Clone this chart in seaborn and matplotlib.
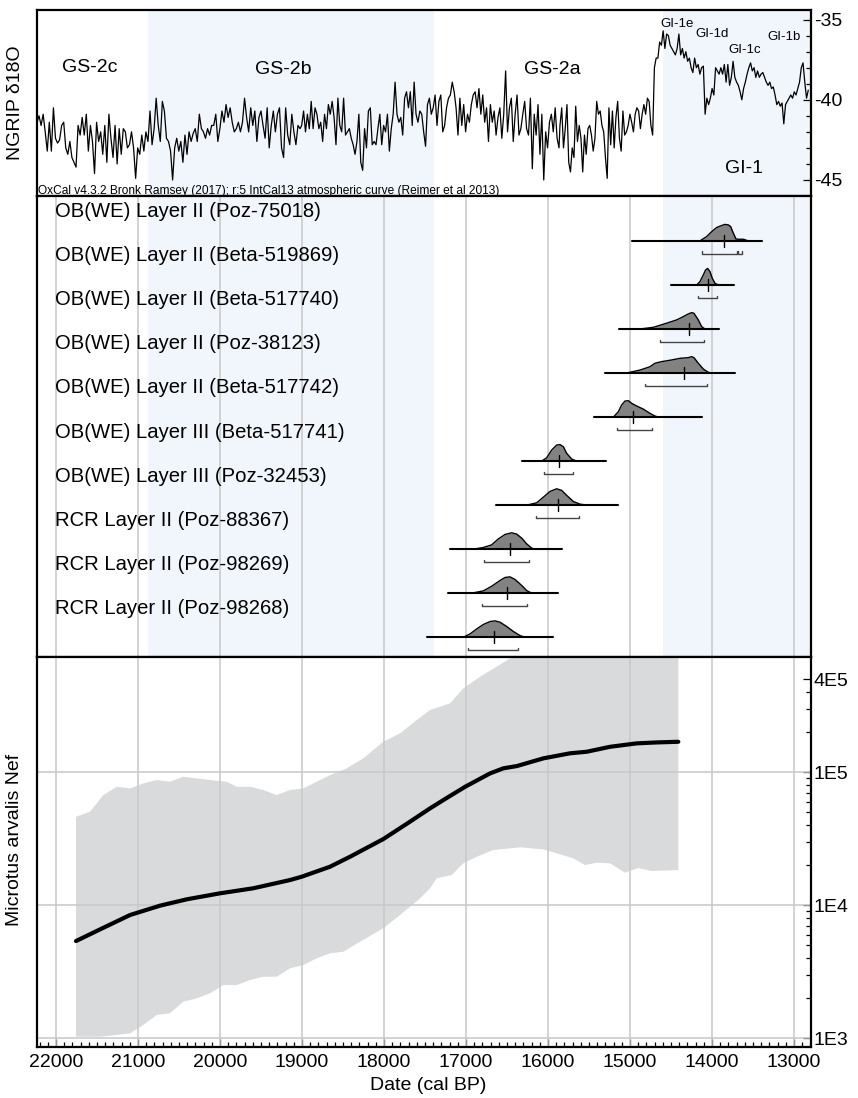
#!/usr/bin/env python3
import numpy as np
import matplotlib
matplotlib.use('Agg')
import matplotlib.pyplot as plt
import matplotlib.ticker as mticker
import seaborn as sns

# NGRIP d18O (permil) in three stretches,
# each stretch evenly spaced in age between its two ends
ngrip_span_a = (22232, 19024)
ngrip_a = [-41.4, -41.0, -41.6, -40.9, -42.0, -43.2, -41.4, -43.2, -40.5, -42.4,
           -42.7, -42.5, -41.6, -41.4, -43.0, -43.4, -42.6, -43.6, -43.9, -44.2,
           -41.6, -42.2, -41.1, -42.2, -40.9, -43.2, -41.6, -42.6, -44.6, -41.4,
           -42.6, -42.0, -43.4, -41.6, -43.9, -40.9, -42.4, -43.6, -41.6, -44.0,
           -41.8, -43.4, -41.8, -42.0, -43.0, -42.8, -42.0, -43.0, -44.9, -43.0,
           -43.4, -42.2, -43.2, -42.0, -42.6, -40.7, -42.8, -41.8, -39.9, -41.6,
           -42.6, -40.1, -40.7, -42.4, -42.6, -43.2, -45.0, -43.0, -42.4, -43.2,
           -42.6, -43.9, -42.2, -43.4, -42.0, -42.6, -42.1, -41.8, -42.6, -40.9,
           -41.8, -42.0, -42.4, -41.8, -42.2, -41.6, -41.6, -40.9, -42.6, -41.8,
           -40.7, -41.4, -40.3, -41.1, -40.5, -41.4, -42.0, -41.8, -41.4, -42.0,
           -41.4, -39.9, -41.1, -42.0, -40.5, -41.6, -40.7, -42.6, -41.1, -40.7,
           -41.6, -42.4, -40.5, -43.0, -41.6, -40.7, -42.0, -40.9, -40.5, -43.0,
           -43.6, -40.5, -42.2, -42.8, -40.9, -42.0, -42.8, -41.6, -41.8]
ngrip_span_b = (19004, 15866)
ngrip_b = [-41.6, -40.7, -42.0, -40.9, -41.8, -40.1, -41.8, -40.5, -40.9, -41.8,
           -41.4, -42.6, -40.9, -41.8, -40.3, -40.9, -40.1, -41.1, -42.8, -39.9,
           -41.6, -42.0, -39.9, -42.2, -42.0, -41.8, -42.4, -42.8, -43.4, -42.6,
           -40.9, -43.9, -44.4, -41.8, -43.0, -40.7, -40.5, -42.8, -42.6, -42.8,
           -41.8, -40.9, -42.8, -41.6, -42.0, -40.9, -43.2, -41.8, -40.9, -38.9,
           -40.9, -41.4, -41.1, -42.2, -39.9, -39.5, -40.5, -39.5, -41.6, -38.9,
           -40.9, -41.4, -40.7, -40.9, -42.0, -42.9, -40.3, -39.9, -40.9, -40.5,
           -39.7, -41.6, -40.1, -39.7, -42.0, -41.6, -40.5, -39.9, -39.7, -38.9,
           -39.5, -40.5, -42.2, -39.9, -41.6, -40.3, -42.0, -40.9, -41.4, -40.3,
           -39.7, -39.5, -40.5, -39.3, -40.9, -39.7, -41.4, -40.5, -42.6, -40.3,
           -41.4, -40.7, -42.2, -41.1, -40.5, -42.4, -40.9, -38.2, -42.0, -40.5,
           -39.9, -42.6, -40.9, -39.7, -42.2, -41.8, -40.9, -40.1, -41.8, -42.2,
           -39.9, -44.3, -40.9, -42.2, -40.3, -43.4, -40.9, -45.0, -42.0, -43.0,
           -41.4, -40.9, -42.0, -40.5, -42.4, -43.0]
ngrip_span_c = (15854, 12826)
ngrip_c = [-41.6, -40.5, -43.0, -41.8, -40.3, -43.9, -44.5, -43.0, -43.6, -40.4,
           -42.6, -41.6, -42.4, -44.5, -42.2, -43.4, -41.8, -41.6, -42.2, -43.2,
           -42.4, -40.1, -40.9, -40.7, -41.6, -42.0, -43.6, -44.9, -40.5, -42.8,
           -40.7, -43.0, -41.1, -40.1, -42.4, -43.2, -40.7, -42.2, -42.0, -41.6,
           -40.9, -41.4, -42.0, -40.9, -40.5, -40.7, -41.8, -40.9, -40.3, -40.9,
           -39.9, -40.1, -41.6, -42.2, -38.0, -37.4, -37.4, -36.4, -36.6, -35.7,
           -36.8, -35.9, -36.0, -36.6, -36.8, -37.0, -37.2, -36.8, -35.9, -37.2,
           -36.8, -37.4, -37.0, -37.6, -37.4, -38.0, -38.3, -37.4, -38.0, -37.8,
           -38.4, -38.0, -37.9, -40.9, -39.9, -40.3, -39.9, -39.3, -39.7, -38.0,
           -38.2, -38.4, -38.0, -38.4, -37.8, -38.9, -37.8, -39.1, -38.6, -37.6,
           -38.6, -38.9, -39.1, -39.5, -40.0, -39.3, -38.9, -38.4, -38.0, -37.7,
           -38.2, -38.0, -38.6, -38.2, -38.6, -38.4, -38.3, -38.6, -38.9, -39.1,
           -38.9, -39.3, -39.2, -39.7, -40.3, -40.1, -40.4, -40.2, -41.5, -40.3,
           -40.1, -39.9, -39.7, -39.9, -39.5, -39.7, -39.3, -38.9, -38.0, -37.7,
           -38.9, -39.9, -39.4]

# shaded Greenland stadial / interstadial stretches (cal BP)
gs2b = (20880, 17390)
gi1 = (14600, 12500)

event_names = ['GS-2c', 'GS-2b', 'GS-2a', 'GI-1e', 'GI-1d', 'GI-1c', 'GI-1b', 'GI-1']
event_age = [21585, 19232, 15951, 14427, 14000, 13606, 13118, 13614]
event_d18o = [-38.0, -38.1, -38.1, -35.3, -35.9, -36.9, -36.1, -44.3]
event_small = [False, False, False, True, True, True, True, False]

# OxCal calibrated dates
sample_labels = ['OB(WE) Layer II (Poz-75018)', 'OB(WE) Layer II (Beta-519869)',
                 'OB(WE) Layer II (Beta-517740)', 'OB(WE) Layer II (Poz-38123)',
                 'OB(WE) Layer II (Beta-517742)', 'OB(WE) Layer III (Beta-517741)',
                 'OB(WE) Layer III (Poz-32453)', 'RCR Layer II (Poz-88367)',
                 'RCR Layer II (Poz-98269)', 'RCR Layer II (Poz-98268)']
dist_ages = [
    [14147, 14066, 14004, 13944, 13883, 13842, 13801, 13773, 13740, 13708, 13679, 13618, 13557],
    [14187, 14147, 14106, 14078, 14053, 14025, 13996, 13964, 13923],
    [14878, 14716, 14553, 14431, 14350, 14289, 14248, 14220, 14167, 14126, 14086],
    [15041, 14878, 14757, 14696, 14614, 14492, 14391, 14289, 14248, 14220, 14167, 14106, 14045, 14004],
    [15203, 15142, 15102, 15061, 15020, 14979, 14919, 14837, 14756, 14695, 14654],
    [16077, 16016, 15955, 15894, 15853, 15813, 15772, 15711, 15650],
    [16260, 16138, 16057, 15975, 15894, 15833, 15772, 15691, 15610, 15528],
    [16911, 16789, 16687, 16606, 16524, 16443, 16382, 16321, 16260, 16199, 16159],
    [16931, 16789, 16687, 16585, 16524, 16464, 16402, 16321, 16260, 16199],
    [17033, 16951, 16870, 16789, 16707, 16646, 16585, 16504, 16423, 16342, 16281],
]
dist_prob = [
    [0, 0.26, 0.56, 0.81, 0.93, 1.0, 0.97, 0.87, 0.47, 0.12, 0.10, 0.10, 0],
    [0, 0.20, 0.61, 0.91, 1.0, 0.81, 0.40, 0.10, 0],
    [0, 0.10, 0.35, 0.55, 0.75, 0.91, 0.99, 0.95, 0.55, 0.14, 0],
    [0, 0.18, 0.38, 0.59, 0.69, 0.79, 0.89, 0.93, 0.99, 0.93, 0.59, 0.24, 0.04, 0],
    [0, 0.32, 0.73, 0.97, 0.99, 0.83, 0.67, 0.48, 0.22, 0.06, 0],
    [0, 0.20, 0.67, 0.97, 1.0, 0.87, 0.47, 0.12, 0],
    [0, 0.14, 0.48, 0.83, 0.99, 0.89, 0.59, 0.22, 0.06, 0],
    [0, 0.10, 0.26, 0.62, 0.89, 0.99, 0.91, 0.67, 0.32, 0.06, 0],
    [0, 0.14, 0.42, 0.77, 0.95, 0.99, 0.83, 0.47, 0.16, 0],
    [0, 0.20, 0.50, 0.77, 0.95, 0.99, 0.91, 0.65, 0.35, 0.10, 0],
]
dist_span = [(14980, 13395), (14500, 13732), (15135, 13915), (15305, 13720), (15435, 14126),
             (16313, 15293), (16634, 15150), (17195, 15833), (17215, 15874), (17480, 15943)]
dist_median = [13854, 14053, 14277, 14342, 14959, 15866, 15878, 16464, 16496, 16659]
dist_range95 = [[(14126, 13700), (13679, 13631)], [(14167, 13944)], [(14634, 14100)],
                [(14817, 14057)], [(15162, 14728)], [(16045, 15699)], [(16146, 15618)],
                [(16776, 16228)], [(16801, 16252)], [(16971, 16362)]]

# Microtus arvalis effective population size
nef_age = [21756, 21463, 21098, 20732, 20406, 20000, 19594, 19146, 19004, 18659, 18415, 18009, 17683,
           17439, 17236, 17012, 16707, 16545, 16382, 16057, 15732, 15528, 15244, 14919, 14675, 14411]
nef_median = [5360, 6560, 8410, 9890, 11040, 12250, 13370, 15420, 16330, 19410, 23070, 31330, 42360,
              53330, 63800, 77450, 97720, 106700, 110900, 126800, 138400, 142200, 154900, 164400, 167100, 169000]
nef_upper_age = [21756, 21585, 21423, 21260, 21098, 20935, 20772, 20610, 20448, 20284, 20122, 19918, 19796,
                 19634, 19472, 19309, 19146, 18984, 18821, 18659, 18455, 18252, 18009, 17805, 17602, 17439,
                 17195, 17033, 16829, 16626, 16463, 16200, 14411]
nef_upper = [46100, 50350, 67100, 77450, 75300, 82200, 87100, 84600, 92200, 89600, 87100, 84600, 77450,
             77450, 73300, 67100, 73300, 75300, 84600, 94800, 106700, 126800, 169000, 195400, 246000, 292400,
             328900, 425600, 521200, 619400, 716100, 900000, 1000000]
nef_lower_age = [21756, 21463, 21260, 21098, 20935, 20772, 20610, 20448, 20284, 20122, 19960, 19796, 19634,
                 19472, 19309, 19146, 18984, 18821, 18659, 18496, 18293, 18009, 17805, 17561, 17439, 17357,
                 17174, 17033, 16870, 16667, 16341, 16057, 15894, 15691, 15549, 15406, 15244, 15061, 14899,
                 14736, 14411]
nef_lower = [1023, 1023, 1054, 1084, 1253, 1489, 1535, 1875, 1986, 2166, 2500, 2500, 2729,
             2891, 2891, 3342, 3540, 3972, 4335, 4457, 5297, 6683, 8414, 11220, 13370, 15880,
             16830, 20590, 23070, 25930, 27160, 26240, 24490, 22440, 20000, 20800, 20590, 17500, 18970,
             18030, 18320]

nef_ticks = [1e3, 1e4, 1e5, 5e5]
nef_ticklabels = ['1E3', '1E4', '1E5', '4E5']  # as printed on the original

sns.set_theme(style='white')
plt.rcParams['font.family'] = ['Liberation Sans', 'DejaVu Sans']
plt.rcParams['axes.unicode_minus'] = False
plt.rcParams['text.color'] = 'black'
plt.rcParams['xtick.color'] = 'black'
plt.rcParams['ytick.color'] = 'black'

SHADE = '#f1f6fc'
GRID = '#c8c8c8'

fig = plt.figure(figsize=(8.58, 10.98), dpi=100)
ax_top = fig.add_axes([0.0431, 0.8215, 0.9021, 0.1694])
ax_mid = fig.add_axes([0.0431, 0.4016, 0.9021, 0.4199], sharex=ax_top)
ax_bot = fig.add_axes([0.0431, 0.0464, 0.9021, 0.3552], sharex=ax_top)

# --- top: NGRIP
ages = np.concatenate([np.linspace(*ngrip_span_a, len(ngrip_a)),
                       np.linspace(*ngrip_span_b, len(ngrip_b)),
                       np.linspace(*ngrip_span_c, len(ngrip_c))])
d18o = np.concatenate([ngrip_a, ngrip_b, ngrip_c])
for ax in (ax_top, ax_mid):
    ax.axvspan(*gs2b, color=SHADE, lw=0, zorder=0)
    ax.axvspan(*gi1, color=SHADE, lw=0, zorder=0)

sns.lineplot(x=ages, y=d18o, ax=ax_top, color='black', lw=0.9, sort=False, estimator=None, zorder=3)
ax_top.set_ylim(-46.0, -34.4)
for name, a, v, small in zip(event_names, event_age, event_d18o, event_small):
    ax_top.text(a, v, name, ha='center', va='center', fontsize=9.5 if small else 14, zorder=4)
ax_top.text(0.001, 0.012, 'OxCal v4.3.2 Bronk Ramsey (2017); r:5 IntCal13 atmospheric curve (Reimer et al 2013)',
            transform=ax_top.transAxes, fontsize=8.6, ha='left', va='baseline')
ax_top.yaxis.tick_right()
ax_top.yaxis.set_major_locator(mticker.FixedLocator([-45, -40, -35]))
ax_top.yaxis.set_minor_locator(mticker.MultipleLocator(1))
ax_top.tick_params(axis='y', which='both', direction='in', right=True, left=False,
                   labelright=True, labelleft=False, labelsize=14, pad=2, width=0.9, color='black')
ax_top.tick_params(axis='y', which='major', length=6)
ax_top.tick_params(axis='y', which='minor', length=3.6)
ax_top.tick_params(axis='x', which='both', bottom=False, labelbottom=False)
ax_top.set_xlabel('')
ax_top.set_ylabel('')

# --- middle: calibrated dates
for a in range(13000, 22001, 1000):
    ax_mid.axvline(a, color=GRID, lw=1.1, zorder=1)
for i in range(len(sample_labels)):
    h = np.array(dist_prob[i]) * 0.375
    ax_mid.fill_between(dist_ages[i], i, i - h, color='#828282', lw=0, zorder=3)
    ax_mid.plot(dist_ages[i], i - h, color='black', lw=1, zorder=4)
    ax_mid.plot(dist_span[i], [i, i], color='black', lw=1.5, zorder=5)
    m = dist_median[i]
    ax_mid.plot([m, m], [i - 0.14, i + 0.14], color='black', lw=1, zorder=6)
    for a, b in dist_range95[i]:
        ax_mid.plot([a, a, b, b], [i + 0.24, i + 0.295, i + 0.295, i + 0.24],
                    color='#444444', lw=1, zorder=5)
    ax_mid.text(0.0233, i - 0.66, sample_labels[i], transform=ax_mid.get_yaxis_transform(),
                ha='left', va='center', fontsize=14.6, zorder=6)
ax_mid.set_ylim(9.45, -1.02)
ax_mid.tick_params(axis='both', which='both', left=False, right=False, bottom=False,
                   labelleft=False, labelbottom=False)

# --- bottom: Nef
for a in range(13000, 22001, 1000):
    ax_bot.axvline(a, color=GRID, lw=1.1, zorder=1)
for v in (1e3, 1e4, 1e5):
    ax_bot.axhline(v, color=GRID, lw=1.1, zorder=1)
ax_bot.fill(np.r_[nef_upper_age, nef_lower_age[::-1]], np.r_[nef_upper, nef_lower[::-1]],
            color='#d9dadb', lw=0, zorder=0.8)
sns.lineplot(x=nef_age, y=nef_median, ax=ax_bot, color='black', lw=3, sort=False, estimator=None, zorder=3)
ax_bot.set_yscale('log')
ax_bot.set_ylim(855, 733000)
ax_bot.yaxis.tick_right()
ax_bot.yaxis.set_major_locator(mticker.FixedLocator(nef_ticks))
ax_bot.yaxis.set_major_formatter(mticker.FixedFormatter(nef_ticklabels))
minors = [k * 10 ** e for e in (3, 4) for k in range(2, 10)] + [2e5, 3e5, 4e5]
ax_bot.yaxis.set_minor_locator(mticker.FixedLocator(minors))
ax_bot.yaxis.set_minor_formatter(mticker.NullFormatter())
ax_bot.tick_params(axis='y', which='both', direction='in', right=True, left=False,
                   labelright=True, labelleft=False, labelsize=14, pad=2, width=0.9, color='black')
ax_bot.tick_params(axis='y', which='major', length=6)
ax_bot.tick_params(axis='y', which='minor', length=3.6)

ax_bot.set_xlim(22232, 12793)
ax_bot.xaxis.set_major_locator(mticker.MultipleLocator(1000))
ax_bot.xaxis.set_minor_locator(mticker.MultipleLocator(100))
ax_bot.xaxis.set_major_formatter(mticker.FuncFormatter(lambda v, p: f'{v:.0f}'))
ax_bot.tick_params(axis='x', which='both', direction='in', bottom=True, top=False,
                   labelbottom=True, labelsize=14, pad=5, width=0.9, color='black')
ax_bot.tick_params(axis='x', which='major', length=6)
ax_bot.tick_params(axis='x', which='minor', length=3.6)
ax_bot.set_xlabel('')
ax_bot.set_ylabel('')

for ax in (ax_top, ax_mid, ax_bot):
    for s in ax.spines.values():
        s.set_color('black')
        s.set_linewidth(1.6)
        s.set_zorder(10)

fig.text(15 / 858, 1 - 103 / 1098, 'NGRIP δ18O', rotation=90, ha='center', va='center', fontsize=14)
fig.text(15 / 858, 1 - 840 / 1098, 'Microtus arvalis Nef', rotation=90, ha='center', va='center', fontsize=14)
fig.text(428 / 858, 1 - 1086 / 1098, 'Date (cal BP)', ha='center', va='center', fontsize=14)

fig.savefig('out.png', dpi=100)
